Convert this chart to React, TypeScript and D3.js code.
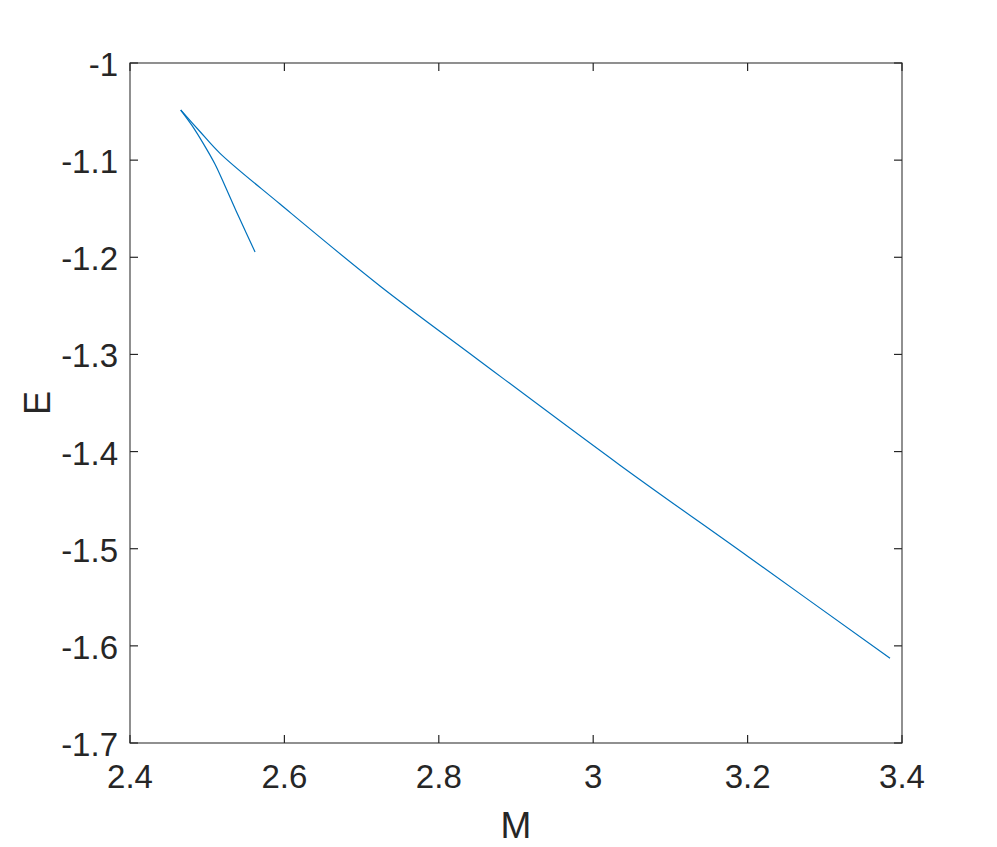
import React from "react";
import * as d3 from "d3";

// Lower branch (from cusp down to its end)
const lowerM = [2.4657, 2.48, 2.495, 2.51, 2.525, 2.543, 2.562];
const lowerE = [-1.0484, -1.064, -1.083, -1.104, -1.13, -1.162, -1.1945];
// Upper branch (from cusp to the far end)
const upperM = [2.4657, 2.49, 2.5166, 2.5943, 2.7238, 2.85, 3.0347, 3.2, 3.3845];
const upperE = [-1.0484, -1.07, -1.093, -1.1452, -1.2295, -1.3049, -1.414, -1.5078, -1.6128];

const xTicks = [2.4, 2.6, 2.8, 3.0, 3.2, 3.4];
const xTickLabels = ["2.4", "2.6", "2.8", "3", "3.2", "3.4"];
const yTicks = [-1, -1.1, -1.2, -1.3, -1.4, -1.5, -1.6, -1.7];
const yTickLabels = ["-1", "-1.1", "-1.2", "-1.3", "-1.4", "-1.5", "-1.6", "-1.7"];

const W = 997;
const H = 847;
const left = 130;
const right = 902;
const top = 63;
const bottom = 743;

export default function App() {
  const x = d3.scaleLinear().domain([2.4, 3.4]).range([left, right]);
  const y = d3.scaleLinear().domain([-1.7, -1]).range([bottom, top]);

  const lowerPts: [number, number][] = lowerM.map((m, i) => [m, lowerE[i]]);
  const upperPts: [number, number][] = upperM.map((m, i) => [m, upperE[i]]);

  const line = d3
    .line<[number, number]>()
    .x((d) => x(d[0]))
    .y((d) => y(d[1]))
    .curve(d3.curveCatmullRom.alpha(0.5));

  const axisColor = "#262626";
  const font = "'Liberation Sans', Arial, Helvetica, sans-serif";
  const tickLen = 8;

  return (
    <svg
      width={W}
      height={H}
      style={{ position: "absolute", left: 0, top: 0, display: "block", background: "#fff" }}
    >
      <rect x={0} y={0} width={W} height={H} fill="#fff" />
      <path d={line(lowerPts) || ""} fill="none" stroke="#0072BD" strokeWidth={1.2} />
      <path d={line(upperPts) || ""} fill="none" stroke="#0072BD" strokeWidth={1.2} />
      {/* box */}
      <rect
        x={left}
        y={top}
        width={right - left}
        height={bottom - top}
        fill="none"
        stroke={axisColor}
        strokeWidth={1.2}
        opacity={0.85}
      />
      {xTicks.map((t, i) => (
        <g key={"x" + i}>
          <line x1={x(t)} x2={x(t)} y1={bottom} y2={bottom - tickLen} stroke={axisColor} strokeWidth={1.2} />
          <line x1={x(t)} x2={x(t)} y1={top} y2={top + tickLen} stroke={axisColor} strokeWidth={1.2} />
          <text
            x={x(t)}
            y={bottom + 45}
            textAnchor="middle"
            fontFamily={font}
            fontSize={33}
            fill={axisColor}
          >
            {xTickLabels[i]}
          </text>
        </g>
      ))}
      {yTicks.map((t, i) => (
        <g key={"y" + i}>
          <line x1={left} x2={left + tickLen} y1={y(t)} y2={y(t)} stroke={axisColor} strokeWidth={1.2} />
          <line x1={right} x2={right - tickLen} y1={y(t)} y2={y(t)} stroke={axisColor} strokeWidth={1.2} />
          <text
            x={left - 12}
            y={y(t) + 13}
            textAnchor="end"
            fontFamily={font}
            fontSize={33}
            fill={axisColor}
          >
            {yTickLabels[i]}
          </text>
        </g>
      ))}
      <text
        x={(left + right) / 2}
        y={838}
        textAnchor="middle"
        fontFamily={font}
        fontSize={37}
        fill={axisColor}
      >
        M
      </text>
      <text
        transform={`translate(50, ${(top + bottom) / 2}) rotate(-90)`}
        textAnchor="middle"
        fontFamily={font}
        fontSize={36}
        fill={axisColor}
      >
        E
      </text>
    </svg>
  );
}
